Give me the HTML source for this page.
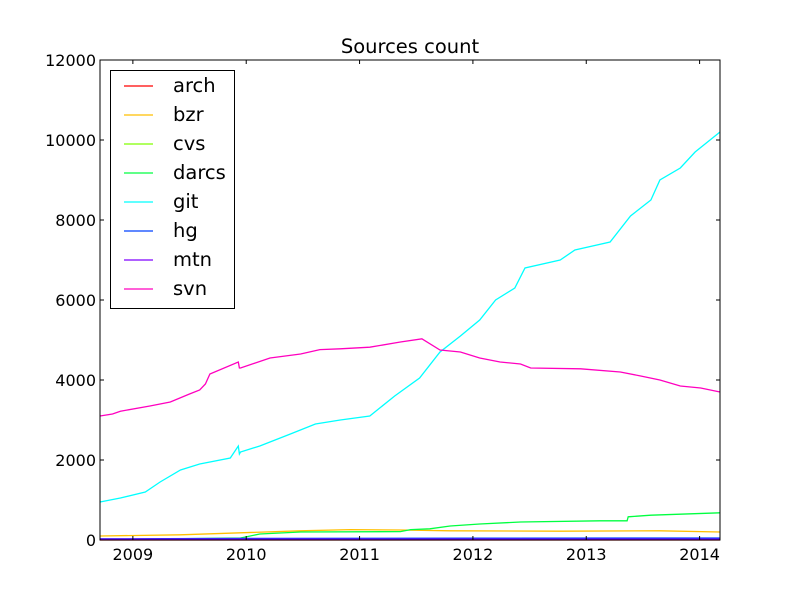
<!DOCTYPE html>
<html><head><meta charset="utf-8"><style>
body{margin:0;background:#fff}
svg text{font-family:"DejaVu Sans","Liberation Sans",sans-serif}
</style></head><body>
<svg id="chart" width="800" height="600" viewBox="0 0 800 600" xmlns="http://www.w3.org/2000/svg">
<rect width="800" height="600" fill="#fff"/>
<text x="410" y="53" font-size="19.5" text-anchor="middle">Sources count</text>
<g id="series"></g>
<g id="axes"></g>
<g id="legend"></g>
</svg>
<script>
const seriesNames = ["arch","bzr","cvs","darcs","git","hg","mtn","svn"];
const seriesColors = ["#ff0000","#ffbf00","#80ff00","#00ff40","#00ffff","#0040ff","#7f00ff","#ff00bf"];
const archX = [2008.71,2014.18]; const archY = [0,0];
const bzrX = [2008.71,2009.42,2009.95,2010.48,2010.92,2011.36,2011.80,2012.77,2013.65,2014.18];
const bzrY = [100,130,180,230,260,250,230,220,230,200];
const cvsX = [2008.71,2014.18]; const cvsY = [10,10];
const darcsX = [2008.71,2009.95,2010.12,2010.48,2011.36,2011.45,2011.62,2011.80,2012.06,2012.42,2013.12,2013.36,2013.37,2013.57,2014.18];
const darcsY = [10,50,150,200,210,260,280,350,400,450,480,480,580,620,680];
const gitX = [2008.71,2008.89,2009.11,2009.24,2009.42,2009.59,2009.86,2009.93,2009.94,2009.95,2010.12,2010.39,2010.61,2010.83,2011.09,2011.31,2011.53,2011.71,2011.89,2012.06,2012.20,2012.37,2012.46,2012.77,2012.90,2013.21,2013.39,2013.57,2013.65,2013.83,2013.96,2014.18];
const gitY = [950,1050,1200,1450,1750,1900,2050,2350,2150,2200,2350,2650,2900,3000,3100,3600,4050,4700,5100,5500,6000,6300,6800,7000,7250,7450,8100,8500,9000,9300,9700,10200];
const hgX = [2008.71,2010,2012,2014.18]; const hgY = [30,40,45,50];
const mtnX = [2008.71,2014.18]; const mtnY = [20,20];
const svnX = [2008.71,2008.82,2008.89,2009.15,2009.33,2009.50,2009.59,2009.64,2009.68,2009.93,2009.94,2009.95,2010.21,2010.48,2010.65,2010.83,2011.09,2011.36,2011.55,2011.71,2011.89,2012.06,2012.24,2012.42,2012.51,2012.95,2013.30,2013.48,2013.65,2013.83,2014.01,2014.18];
const svnY = [3100,3150,3220,3350,3450,3650,3750,3900,4150,4450,4300,4300,4550,4650,4760,4780,4820,4950,5030,4750,4700,4550,4450,4400,4300,4280,4200,4100,4000,3850,3800,3700];
const allX = [archX,bzrX,cvsX,darcsX,gitX,hgX,mtnX,svnX];
const allY = [archY,bzrY,cvsY,darcsY,gitY,hgY,mtnY,svnY];
const xTicks = [2009,2010,2011,2012,2013,2014];
const yTicks = [0,2000,4000,6000,8000,10000,12000];

const L=100,R=720,T=60,B=540, X0=2008.71, X1=2014.18, Y0=0, Y1=12000;
const xs = v => L+(v-X0)/(X1-X0)*(R-L);
const ys = v => B-(v-Y0)/(Y1-Y0)*(B-T);
const NS="http://www.w3.org/2000/svg";
function mk(tag, attrs, parent){const e=document.createElementNS(NS,tag);for(const k in attrs)e.setAttribute(k,attrs[k]);parent.appendChild(e);return e;}
const sg=document.getElementById('series');
seriesNames.forEach((n,i)=>{
  const pts=allX[i].map((x,j)=>xs(x).toFixed(1)+","+ys(allY[i][j]).toFixed(1)).join(" ");
  const p=mk('polyline',{points:pts,fill:"none",stroke:seriesColors[i],"stroke-width":1.3},sg);
  
  
});
const ax=document.getElementById('axes');
const frame=mk('rect',{x:L,y:T,width:R-L,height:B-T,fill:"none",stroke:"#000","stroke-width":1},ax);


xTicks.forEach(t=>{
  const x=xs(t);
  mk('line',{x1:x,y1:B,x2:x,y2:B-4,stroke:"#000"},ax);
  mk('line',{x1:x,y1:T,x2:x,y2:T+4,stroke:"#000"},ax);
  const tx=mk('text',{x:x,y:B+20,"font-size":16,"text-anchor":"middle"},ax);
  tx.textContent=t;
  
  
});
yTicks.forEach(t=>{
  const y=ys(t);
  mk('line',{x1:L,y1:y,x2:L+4,y2:y,stroke:"#000"},ax);
  mk('line',{x1:R,y1:y,x2:R-4,y2:y,stroke:"#000"},ax);
  const tx=mk('text',{x:L-4,y:y+6,"font-size":16,"text-anchor":"end"},ax);
  tx.textContent=t;
  
  
});
const lg=document.getElementById('legend');
const box=mk('rect',{x:110.5,y:70.5,width:124,height:238,fill:"#fff",stroke:"#000"},lg);


seriesNames.forEach((n,i)=>{
  const y=86+i*29;
  const g=mk('g',{},lg);
  
  
  mk('line',{x1:124,y1:y,x2:153,y2:y,stroke:seriesColors[i],"stroke-width":1.3},g);
  const tx=mk('text',{x:173,y:y+6,"font-size":19.5},g);
  tx.textContent=n;
});
</script>
</body></html>
